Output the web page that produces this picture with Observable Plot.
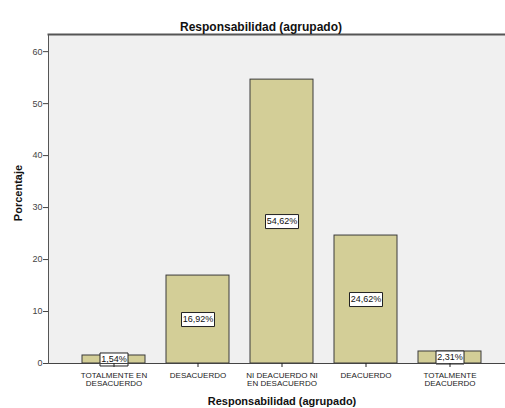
<!DOCTYPE html>
<html><head><meta charset="utf-8">
<script src="https://cdn.jsdelivr.net/npm/d3@7"></script>
<script src="https://cdn.jsdelivr.net/npm/@observablehq/plot@0.6"></script>
<style>body{margin:0;background:#fff;}</style>
</head><body><div id="chart"></div>
<script>
const categories = ["TOTALMENTE EN DESACUERDO","DESACUERDO","NI DEACUERDO NI EN DESACUERDO","DEACUERDO","TOTALMENTE DEACUERDO"];
const tickLabels = ["TOTALMENTE EN\nDESACUERDO","DESACUERDO","NI DEACUERDO NI\nEN DESACUERDO","DEACUERDO","TOTALMENTE\nDEACUERDO"];
const percentages = [1.54, 16.92, 54.62, 24.62, 2.31];
const valueLabels = ["1,54%","16,92%","54,62%","24,62%","2,31%"];
const yTicks = [0,10,20,30,40,50,60];
const title = "Responsabilidad (agrupado)";
const yTitle = "Porcentaje";
const xTitle = "Responsabilidad (agrupado)";

const data = categories.map((c, i) => ({cat: c, v: percentages[i], label: valueLabels[i]}));

function boxSymbol(w, h) { return {draw(ctx) { ctx.rect(-w / 2, -h / 2, w, h); }}; }

const chart = Plot.plot({
  width: 505, height: 408,
  marginLeft: 48, marginRight: 0, marginTop: 34, marginBottom: 45,
  style: {fontFamily: "'Liberation Sans', Arial, sans-serif", background: "white", overflow: "visible"},
  x: {domain: categories, range: [71.5, 491.5], paddingInner: 0.25, paddingOuter: 0.125, align: 0.5, label: null},
  y: {domain: [0, 63.3], label: null},
  marks: [
    Plot.frame({fill: "#f0f0f0", stroke: null}),
    Plot.barY(data, {x: "cat", y: "v", fill: "#d3ce97", stroke: "#3a3a3a", strokeWidth: 1}),
    Plot.dot(data.filter(d => d.label.length > 5), {x: "cat", y: d => d.v / 2, symbol: boxSymbol(33, 14), fill: "white", stroke: "#222", strokeWidth: 1}),
    Plot.dot(data.filter(d => d.label.length <= 5), {x: "cat", y: d => d.v / 2, symbol: boxSymbol(28, 13), fill: "white", stroke: "#222", strokeWidth: 1}),
    Plot.text(data, {x: "cat", y: d => d.v / 2, text: "label", fontSize: 9, fill: "#111"}),
    Plot.ruleY([0], {stroke: "#444"}),
    Plot.frame({anchor: "left", stroke: "#555"}),
    Plot.frame({anchor: "top", stroke: "#555", strokeWidth: 2}),
    Plot.axisY({ticks: yTicks, tickSize: 5, tickPadding: 1, fontSize: 9, color: "#444", label: null}),
    Plot.axisX({tickSize: 4, tickPadding: 5, fontSize: 8, lineHeight: 1, color: "#222", tickFormat: d => tickLabels[categories.indexOf(d)], label: null}),
    Plot.text([title], {frameAnchor: "top", dx: -16, dy: -12, fontWeight: "bold", fontSize: 12, fill: "#111"}),
    Plot.text([yTitle], {frameAnchor: "left", textAnchor: "middle", dx: -30, dy: -6, rotate: -90, fontWeight: "bold", fontSize: 11, fill: "#111"}),
    Plot.text([xTitle], {frameAnchor: "bottom", dx: 5, dy: 41, fontWeight: "bold", fontSize: 11, fill: "#111"})
  ]
});
document.getElementById("chart").append(chart);
</script>
</body></html>
